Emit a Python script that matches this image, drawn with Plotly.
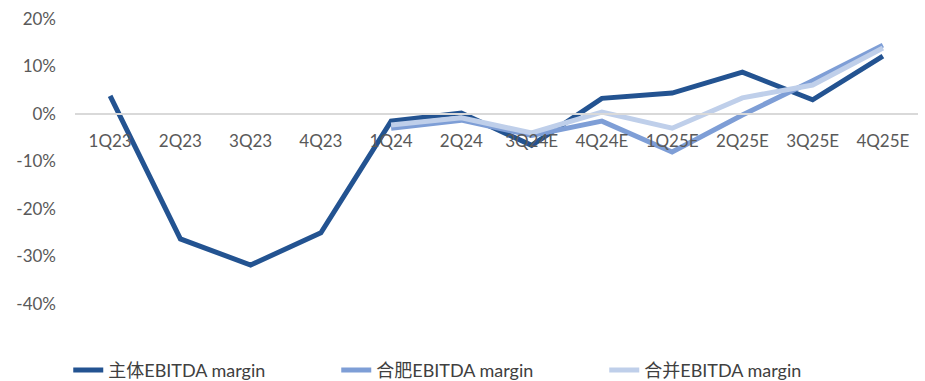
import plotly.graph_objects as go

quarters = ["1Q23", "2Q23", "3Q23", "4Q23", "1Q24", "2Q24", "3Q24E", "4Q24E",
            "1Q25E", "2Q25E", "3Q25E", "4Q25E"]
main_margin = [3.8, -26.3, -31.8, -25.0, -1.5, 0.2, -6.6, 3.3, 4.4, 8.8, 3.0, 12.2]
hefei_margin = [None, None, None, None, -3.0, -1.3, -4.5, -1.5, -8.0, -0.2, 7.0, 14.5]
merged_margin = [None, None, None, None, -2.3, -0.8, -4.0, 0.4, -3.0, 3.4, 6.1, 13.9]
y_ticks = [20, 10, 0, -10, -20, -30, -40]

FONT = "Lato, 'Noto Sans CJK SC', sans-serif"

fig = go.Figure()
series = [
    ("主体EBITDA margin", main_margin, "#235391"),
    ("合肥EBITDA margin", hefei_margin, "#7E9ED6"),
    ("合并EBITDA margin", merged_margin, "#BFCFEA"),
]
for name, vals, color in series:
    fig.add_trace(go.Scatter(
        x=quarters, y=vals, name=name, mode="lines",
        line=dict(color=color, width=5), connectgaps=False,
    ))

fig.update_layout(
    width=925, height=381,
    margin=dict(l=75, r=7, t=19, b=77, autoexpand=False),
    paper_bgcolor="white", plot_bgcolor="white",
    font=dict(family=FONT, size=17, color="#595959"),
    showlegend=True,
    legend=dict(
        orientation="h", x=-0.008, xanchor="left", y=-0.168, yanchor="top",
        entrywidth=223, entrywidthmode="pixels",
        font=dict(family=FONT, size=18, color="#404040"),
        itemwidth=30,
    ),
)
fig.update_xaxes(
    type="category", range=[-0.5, 11.5],
    anchor="free", position=40/60,
    showline=True, linecolor="#D9D9D9", linewidth=2,
    showgrid=False, ticks="outside", ticklen=12, tickcolor="rgba(0,0,0,0)",
    tickfont=dict(family=FONT, size=17, color="#595959"),
)
fig.update_yaxes(
    range=[-40, 20], tickvals=y_ticks,
    ticktext=[f"{v}%" for v in y_ticks],
    showgrid=False, zeroline=False, showline=False,
    ticklabelstandoff=18,
    tickfont=dict(family=FONT, size=17, color="#595959"),
)

fig.write_html("out.html")
